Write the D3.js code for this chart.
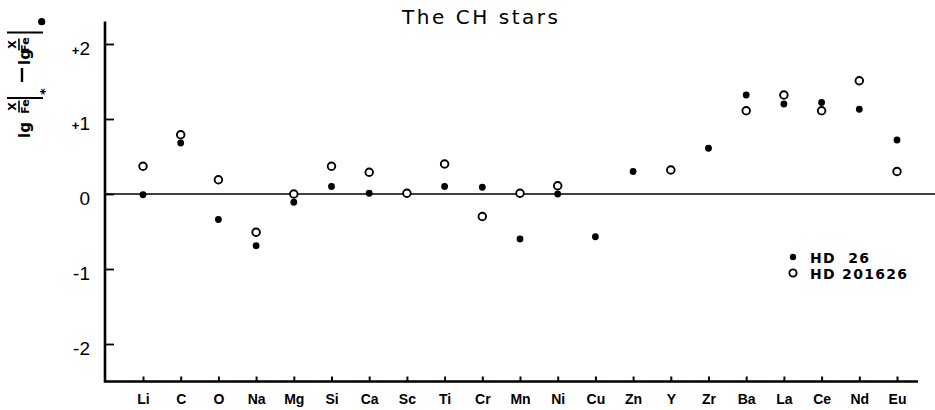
<!DOCTYPE html>
<html>
<head>
<meta charset="utf-8">
<script src="https://cdn.jsdelivr.net/npm/d3@7"></script>
<style>
  body { margin: 0; background: #fff; }
  svg { display: block; }
</style>
</head>
<body>
<div id="chart"></div>
<script>
// abundance differences [X/Fe] relative to the sun
const elements = ["Li", "C", "O", "Na", "Mg", "Si", "Ca", "Sc", "Ti", "Cr", "Mn",
                  "Ni", "Cu", "Zn", "Y", "Zr", "Ba", "La", "Ce", "Nd", "Eu"];
const hd26 = [-0.01, 0.68, -0.34, -0.69, -0.11, 0.10, 0.01, 0.01, 0.10, 0.09, -0.60,
              0.00, -0.57, 0.30, 0.33, 0.61, 1.32, 1.20, 1.22, 1.13, 0.72];
const hd201626 = [0.37, 0.79, 0.19, -0.51, 0.00, 0.37, 0.29, 0.01, 0.40, -0.30, 0.01,
                  0.11, null, null, 0.32, null, 1.11, 1.32, 1.11, 1.51, 0.30];
const yTicks = [2, 1, 0, -1, -2];
const yTickLabels = ["+2", "+1", "0", "-1", "-2"];
const legendNames = ["HD  26", "HD 201626"];

const width = 935, height = 410;
const plotLeft = 105, plotRight = 918, plotTop = 21.5, plotBottom = 381.5;

const svg = d3.select("#chart").append("svg")
    .attr("width", width)
    .attr("height", height)
    .style("font-family", "'DejaVu Sans', sans-serif");

const x = d3.scalePoint()
    .domain(elements)
    .range([143, 897]);

const y = d3.scaleLinear()
    .domain([-2.5, 2.3])
    .range([plotBottom, plotTop]);

// title
svg.append("text")
    .attr("x", 480)
    .attr("y", 24)
    .attr("text-anchor", "middle")
    .attr("textLength", 156)
    .attr("lengthAdjust", "spacing")
    .style("font-size", "20px")
    .text("The CH stars");

// zero line
svg.append("line")
    .attr("x1", plotLeft).attr("x2", width)
    .attr("y1", y(0)).attr("y2", y(0))
    .attr("stroke", "#000")
    .attr("stroke-width", 1.6);

// y axis, ticks pointing inwards
const yAxis = svg.append("g")
    .attr("transform", `translate(${plotLeft},0)`)
    .call(d3.axisLeft(y)
        .tickValues(yTicks)
        .tickSizeInner(-9)
        .tickSizeOuter(0)
        .tickPadding(15)
        .tickFormat((d, i) => yTickLabels[i]));
yAxis.select(".domain").remove();
yAxis.selectAll(".tick line").attr("stroke-width", 1.8);
yAxis.selectAll(".tick text")
    .attr("dy", "0.55em")
    .style("font-size", "19px")
    .attr("fill", "#000")
    .each(function(d, i) {
        const s = yTickLabels[i];
        const t = d3.select(this).text(null);
        if (s[0] === "+") {
            t.append("tspan").style("font-size", "13px").style("font-weight", "bold").text("+");
            t.append("tspan").text(s.slice(1));
        } else {
            t.text(s);
        }
    });

// x axis, ticks pointing up
const xAxis = svg.append("g")
    .attr("transform", `translate(0,${plotBottom})`)
    .call(d3.axisBottom(x)
        .tickSizeInner(-5)
        .tickSizeOuter(0)
        .tickPadding(13));
xAxis.select(".domain").remove();
xAxis.selectAll(".tick line").attr("stroke-width", 2);
xAxis.selectAll(".tick text")
    .attr("fill", "#000")
    .style("font-size", "14px")
    .style("font-weight", "bold");

// axis frame lines
svg.append("path")
    .attr("d", `M${plotLeft},${plotTop}V${plotBottom}H${plotRight}`)
    .attr("fill", "none")
    .attr("stroke", "#000")
    .attr("stroke-width", 2.6);

// points
svg.append("g").selectAll("circle")
    .data(elements.map((e, i) => ({e, v: hd26[i]})).filter(d => d.v != null))
    .join("circle")
    .attr("cx", d => x(d.e))
    .attr("cy", d => y(d.v))
    .attr("r", 3.4)
    .attr("fill", "#000");

svg.append("g").selectAll("circle")
    .data(elements.map((e, i) => ({e, v: hd201626[i]})).filter(d => d.v != null))
    .join("circle")
    .attr("cx", d => x(d.e))
    .attr("cy", d => y(d.v))
    .attr("r", 3.8)
    .attr("fill", "#fff")
    .attr("stroke", "#000")
    .attr("stroke-width", 1.9);

// legend
const legend = svg.append("g");
legendNames.forEach((name, i) => {
    const cy = 257 + i * 16;
    if (i === 0) {
        legend.append("circle").attr("cx", 793).attr("cy", cy).attr("r", 3.2).attr("fill", "#000");
    } else {
        legend.append("circle").attr("cx", 793).attr("cy", cy).attr("r", 3.6)
            .attr("fill", "#fff").attr("stroke", "#000").attr("stroke-width", 1.9);
    }
    legend.append("text")
        .attr("x", 810)
        .attr("y", cy + 6)
        .style("font-size", "14px")
        .style("font-weight", "bold")
        .style("letter-spacing", "1.3px")
        .style("white-space", "pre")
        .text(name);
});

// y axis label: lg X/Fe|* - lg X/Fe|sun, rotated
const yl = svg.append("g")
    .attr("transform", "translate(0,140) rotate(-90)")
    .style("font-weight", "bold");

function fraction(g, u) {
    g.append("text").attr("x", u).attr("y", 16).attr("text-anchor", "middle")
        .style("font-size", "11px").text("X");
    g.append("line").attr("x1", u - 6).attr("x2", u + 6).attr("y1", 19).attr("y2", 19)
        .attr("stroke", "#000").attr("stroke-width", 1.6);
    g.append("text").attr("x", u).attr("y", 29).attr("text-anchor", "middle")
        .style("font-size", "11px").text("Fe");
}
function bar(g, u) {
    g.append("line").attr("x1", u).attr("x2", u).attr("y1", 7).attr("y2", 43)
        .attr("stroke", "#000").attr("stroke-width", 2);
}

yl.append("text").attr("x", 2).attr("y", 30).style("font-size", "15px").text("lg");
fraction(yl, 33.5);
bar(yl, 42);
yl.append("text").attr("x", 45).attr("y", 49).style("font-size", "13px").text("*");
yl.append("line").attr("x1", 58).attr("x2", 72).attr("y1", 22).attr("y2", 22)
    .attr("stroke", "#000").attr("stroke-width", 2.4);
yl.append("text").attr("x", 75).attr("y", 30).style("font-size", "15px").text("lg");
fraction(yl, 95.5);
bar(yl, 107.5);
yl.append("circle").attr("cx", 118.3).attr("cy", 41.7).attr("r", 3.6).attr("fill", "#000");
</script>
</body>
</html>
